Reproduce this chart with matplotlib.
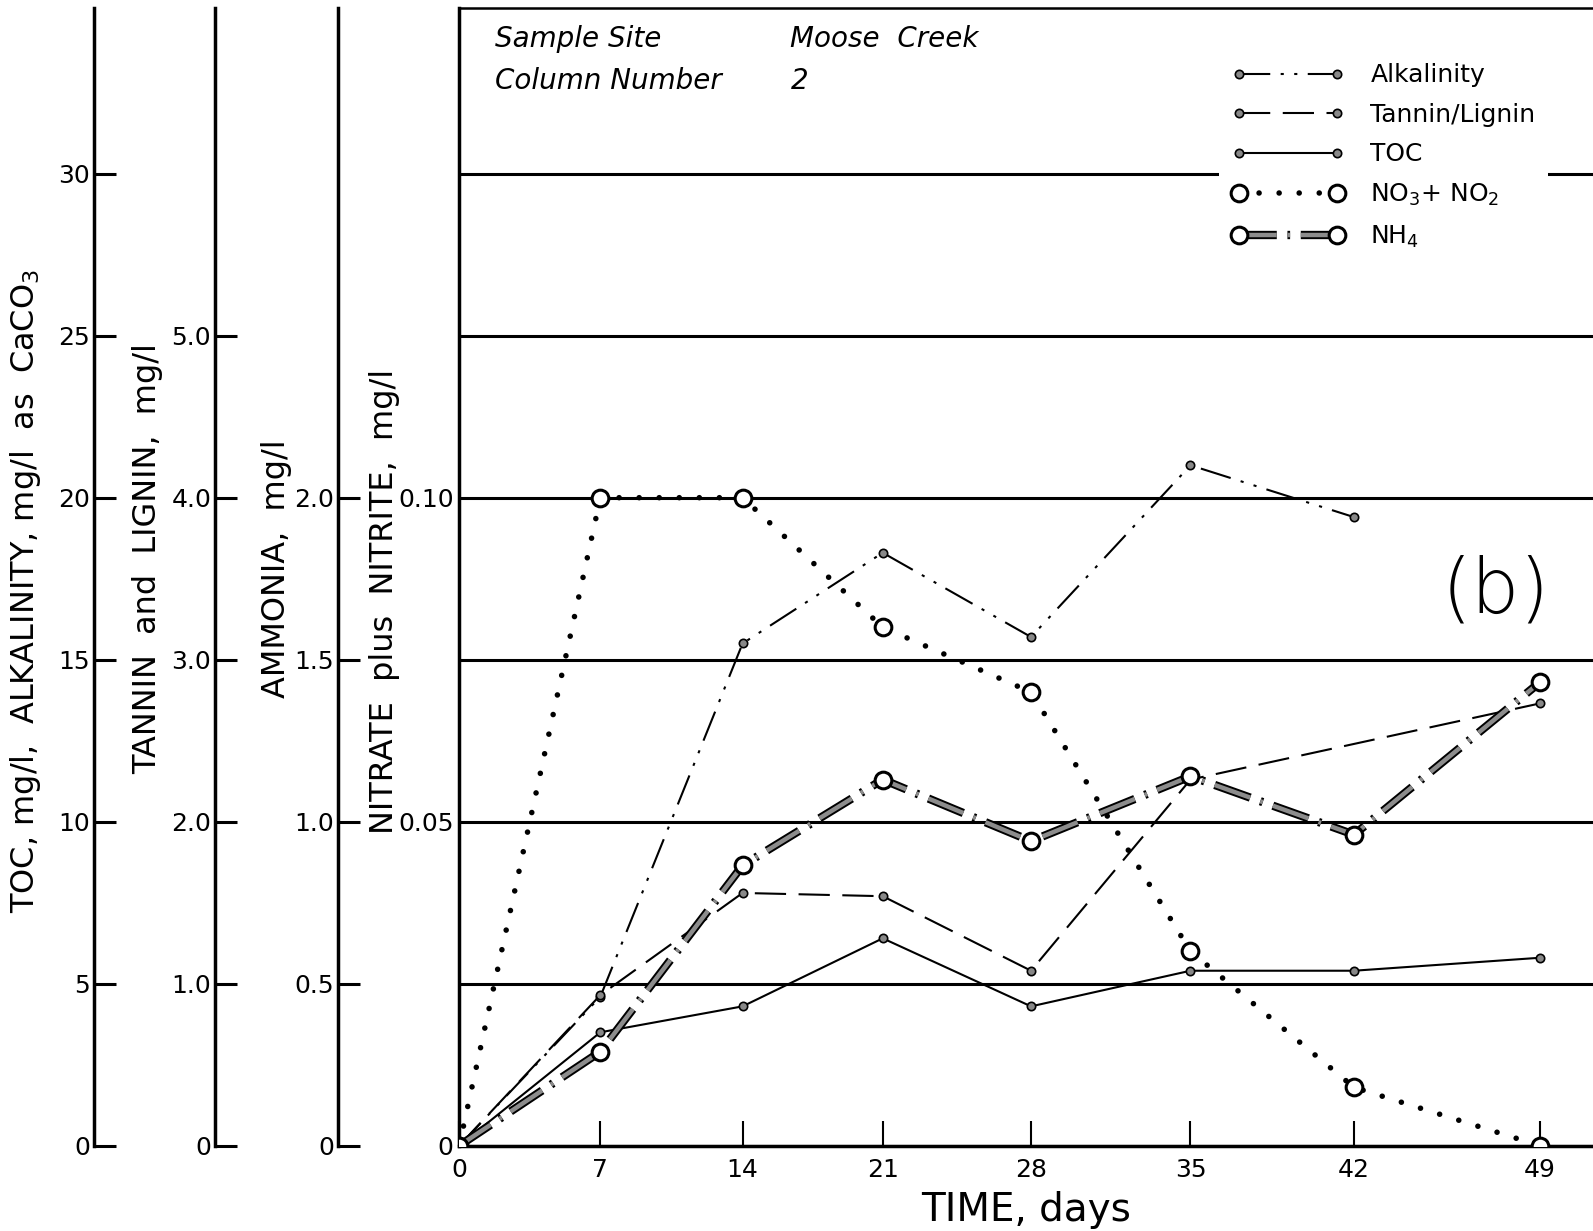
import matplotlib
matplotlib.use('Agg')
import matplotlib.pyplot as plt
import matplotlib.patheffects as pe
from matplotlib.lines import Line2D
import numpy as np

plt.rcParams['font.family'] = ['DejaVu Sans']
plt.rcParams['mathtext.default'] = 'regular'

# sampling days
days = [0, 7, 14, 21, 28, 35, 42, 49]
toc = [0, 3.5, 4.3, 6.4, 4.3, 5.4, 5.4, 5.8]                 # mg/l
alk_days = [0, 7, 14, 21, 28, 35, 42]
alkalinity = [0, 4.6, 15.5, 18.3, 15.7, 21.0, 19.4]          # mg/l as CaCO3
tannin_days = [0, 7, 14, 21, 28, 35, 49]
tannin = [0, 0.93, 1.56, 1.54, 1.08, 2.26, 2.73]             # mg/l
nitrate = [0, 0.100, 0.100, 0.080, 0.070, 0.030, 0.009, 0.0] # mg/l
ammonia = [0, 0.29, 0.865, 1.13, 0.94, 1.14, 0.96, 1.43]     # mg/l

day_ticks = [0, 7, 14, 21, 28, 35, 42, 49]

# the drawn time axis is not evenly spaced; calibrate scale to it
cal_days = [-7, 0, 7, 14, 21, 28, 35, 42, 49, 56]
cal_pos = [313, 452, 591, 731, 869, 1015, 1172, 1333, 1516, 1699]

def fwd(x):
    return np.interp(x, cal_days, cal_pos)

def inv(x):
    return np.interp(x, cal_pos, cal_days)

W, H = 1568.0, 1212.0
x0, y0, ytop = 452, 1128, 8
bottom = 1 - y0 / H
height = (y0 - ytop) / H
nit_max = 0.05 * (y0 - ytop) / 319.0

fig = plt.figure(figsize=(15.93, 12.31), dpi=100)
ax = fig.add_axes([x0 / W, bottom, 1 - x0 / W, height])
ax.set_xscale('function', functions=(fwd, inv))
ax.set_xlim(0, 51)
ax.set_ylim(0, nit_max)
ax.set_xticks(day_ticks)
ax.set_xticklabels([str(d) for d in day_ticks])
ax.set_yticks([0, 0.025, 0.05, 0.075, 0.10, 0.125, 0.15])
ax.set_yticklabels(['0', '', '0.05', '', '0.10', '', ''])
ax.yaxis.grid(True, color='black', linewidth=2.2)
ax.set_axisbelow(True)
ax.tick_params(axis='y', length=0, labelsize=18, pad=4)
ax.tick_params(axis='x', direction='in', length=18, width=1.5, labelsize=18, pad=9)
ax.spines['right'].set_visible(False)
ax.spines['left'].set_linewidth(2.5)
ax.spines['bottom'].set_linewidth(2.5)
ax.spines['top'].set_linewidth(1.8)

# twin scales for the other quantities
ax_toc = ax.twinx()
ax_tan = ax.twinx()
ax_amm = ax.twinx()
ax_toc.set_ylim(0, nit_max * 200)
ax_tan.set_ylim(0, nit_max * 40)
ax_amm.set_ylim(0, nit_max * 20)
for t in (ax_toc, ax_tan, ax_amm):
    t.set_yticks([])
    for s in t.spines.values():
        s.set_visible(False)

small = dict(marker='o', markersize=6, markerfacecolor='#888888',
             markeredgecolor='black', markeredgewidth=1.2, color='black')
big = dict(marker='o', markersize=12, markerfacecolor='white',
           markeredgecolor='black', markeredgewidth=2.2, color='black')

alk_ls = (0, (15, 5, 1.5, 5, 1.5, 5))
tan_ls = (0, (15, 6))
no3_ls = (0, (0.01, 3.6))
nh4_ls = (0, (8.5, 2.4, 0.6, 2.4))
nh4_line = dict(linestyle=nh4_ls, linewidth=3.2, color='#8c8c8c',
                path_effects=[pe.Stroke(linewidth=6, foreground='black'), pe.Normal()])

ax_toc.plot(alk_days, alkalinity, linestyle=alk_ls, linewidth=1.5, **small)
ax_tan.plot(tannin_days, tannin, linestyle=tan_ls, linewidth=1.5, **small)
ax_toc.plot(days, toc, linestyle='-', linewidth=1.5, **small)
ax.plot(days, nitrate, linestyle=no3_ls, linewidth=4, dash_capstyle='round',
        zorder=5, **big)
ax_amm.plot(days, ammonia, **nh4_line)
ax_amm.plot(days, ammonia, linestyle='none', **big)

# legend
handles = [
    Line2D([], [], linestyle=alk_ls, linewidth=1.5, **small),
    Line2D([], [], linestyle=tan_ls, linewidth=1.5, **small),
    Line2D([], [], linestyle='-', linewidth=1.5, **small),
    Line2D([], [], linestyle=no3_ls, linewidth=4, dash_capstyle='round', **big),
    (Line2D([], [], **nh4_line), Line2D([], [], linestyle='none', **big)),
]
labels = ['Alkalinity', 'Tannin/Lignin', 'TOC', 'NO$_3$+ NO$_2$', 'NH$_4$']
leg = ax_amm.legend(handles, labels, loc='upper left',
                    bbox_to_anchor=((1200 - x0) / (W - x0), (y0 - 50) / (y0 - ytop)),
                    frameon=True, facecolor='white', edgecolor='none', framealpha=1,
                    fancybox=False, numpoints=2, handlelength=4.5, handletextpad=1.05,
                    labelspacing=0.62, fontsize=18, borderpad=0.5, borderaxespad=0)

# site annotation
info = dict(transform=ax.transAxes, fontsize=20, style='italic', va='center')
ax.text((487 - x0) / (W - x0), (y0 - 38) / (y0 - ytop), 'Sample Site', **info)
ax.text((778 - x0) / (W - x0), (y0 - 38) / (y0 - ytop), 'Moose  Creek', **info)
ax.text((487 - x0) / (W - x0), (y0 - 80) / (y0 - ytop), 'Column Number', **info)
ax.text((778 - x0) / (W - x0), (y0 - 80) / (y0 - ytop), '2', **info)
ax.text((1472 - x0) / (W - x0), (y0 - 582) / (y0 - ytop), '(b)', transform=ax.transAxes,
        fontsize=55, ha='center', va='center', fontweight='light')

ax.set_xlabel('TIME, days', fontsize=28, labelpad=6)

# separate left-hand scales
def side_scale(xpix, top_val, ticks, ticklabels):
    a = fig.add_axes([xpix / W, bottom, 0.0005, height])
    a.set_ylim(0, top_val)
    a.set_yticks(ticks)
    a.set_yticklabels(ticklabels)
    a.set_xticks([])
    for k in ('top', 'right', 'bottom'):
        a.spines[k].set_visible(False)
    a.spines['left'].set_linewidth(2.5)
    a.tick_params(axis='y', direction='in', length=16, width=2.2, labelsize=18, pad=3)
    a.patch.set_visible(False)
    return a

side_scale(93, nit_max * 200, [0, 5, 10, 15, 20, 25, 30],
           ['0', '5', '10', '15', '20', '25', '30'])
side_scale(212, nit_max * 40, [0, 1, 2, 3, 4, 5],
           ['0', '1.0', '2.0', '3.0', '4.0', '5.0'])
side_scale(333, nit_max * 20, [0, 0.5, 1.0, 1.5, 2.0],
           ['0', '0.5', '1.0', '1.5', '2.0'])

lab = dict(rotation=90, ha='center', va='center', fontsize=23)
fig.text(25 / W, 1 - 582 / H, 'TOC, mg/l,  ALKALINITY, mg/l  as  CaCO$_3$', **lab)
fig.text(145 / W, 1 - 550 / H, 'TANNIN  and  LIGNIN,  mg/l', **lab)
fig.text(272 / W, 1 - 560 / H, 'AMMONIA,  mg/l', **lab)
fig.text(378 / W, 1 - 592 / H, 'NITRATE  plus  NITRITE,  mg/l', **lab)

fig.savefig('out.png', dpi=100)
